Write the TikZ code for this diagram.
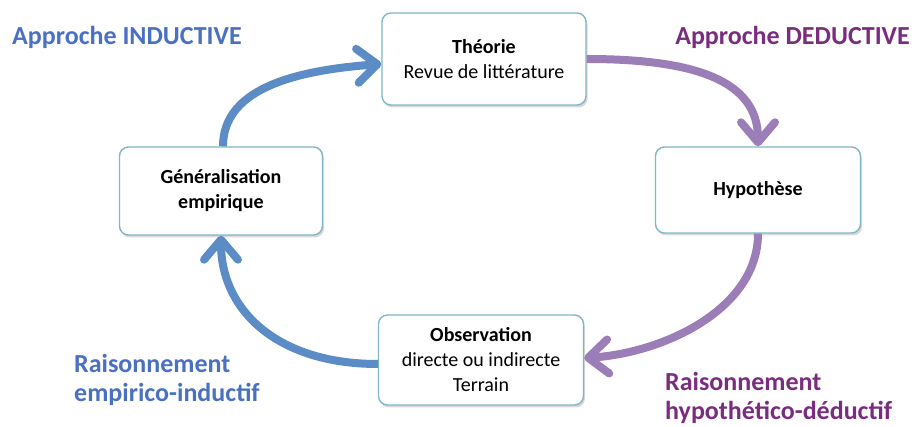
\documentclass[tikz,border=0pt]{standalone}
\usepackage{fontspec}
\setmainfont{Carlito}
\usetikzlibrary{arrows.meta,shadows}
\definecolor{boxline}{HTML}{7FB6C9}
\definecolor{indblue}{HTML}{5B8CC5}
\definecolor{indtext}{HTML}{4A70C2}
\definecolor{dedpurple}{HTML}{9B7DB8}
\definecolor{dedtext}{HTML}{7A2D7E}

\begin{document}
\begin{tikzpicture}[x=1pt,y=-1pt,
        etape/.style={draw=boxline,line width=1.4pt,fill=white,rounded corners=9pt,align=center,
            font=\fontsize{20}{25}\selectfont,
            drop shadow={shadow xshift=1.5pt,shadow yshift=-2.5pt,opacity=0.3}},
        fleche/.style={line width=8pt,-{Straight Barb[length=20pt,width=34pt,round]}},
        etiq/.style={font=\bfseries\fontsize{26}{29}\selectfont,inner sep=0pt,align=left}]
    \useasboundingbox (0,0) rectangle (914,427);
    \node[etape,minimum width=204pt,minimum height=92pt] (theo) at (484,59)
        {\textbf{Théorie}\\Revue de littérature};
    \node[etape,minimum width=205pt,minimum height=86pt] (hypo) at (758,190)
        {\textbf{Hypothèse}};
    \node[etape,minimum width=205pt,minimum height=90pt] (obs) at (481,360)
        {\textbf{Observation}\\directe ou indirecte\\Terrain};
    \node[etape,minimum width=203pt,minimum height=88pt] (gen) at (221,191)
        {\textbf{Généralisation}\\\textbf{empirique}};
    \node[etiq,indtext,anchor=base west] (induc) at (12,45) {Approche INDUCTIVE};
    \node[etiq,dedtext,anchor=base east] (deduc) at (910,45) {Approche DEDUCTIVE};
    \node[etiq,indtext,anchor=north west] (rempi) at (74,354) {Raisonnement\\empirico-inductif};
    \node[etiq,dedtext,anchor=north west] (rhypo) at (665,372) {Raisonnement\\hypothético-déductif};
    \draw[fleche,indblue] ([xshift=2pt]gen.north) .. controls +(0,-60) and +(-80,6) .. ([yshift=-5pt]theo.west);
    \draw[fleche,dedpurple] (theo.east) .. controls +(110,0) and +(0,-65) .. (hypo.north);
    \draw[fleche,dedpurple] (hypo.south) .. controls +(0,75) and +(80,-5) .. ([yshift=2pt]obs.east);
    \draw[fleche,indblue] ([yshift=-4pt]obs.west) .. controls +(-100,0) and +(0,75) .. (gen.south);
\end{tikzpicture}
\end{document}
